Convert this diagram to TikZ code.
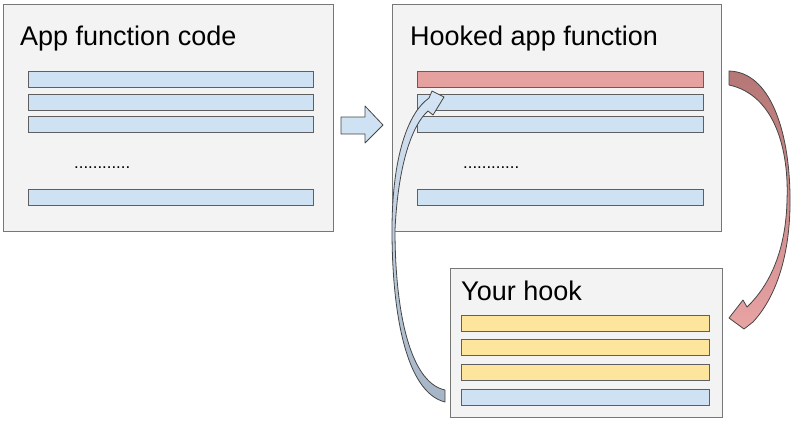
\documentclass[tikz,border=0pt]{standalone}
\usepackage{fontspec}
\setmainfont{Liberation Sans}
\definecolor{boxfill}{HTML}{F3F3F3}
\definecolor{boxline}{HTML}{777777}
\definecolor{barline}{HTML}{5F5F5F}
\definecolor{lblue}{HTML}{CFE2F3}
\definecolor{lred}{HTML}{E5A0A0}
\definecolor{lyellow}{HTML}{FDE59E}
\definecolor{redstart}{HTML}{B57676}
\definecolor{redend}{HTML}{E8A3A3}
\definecolor{bluestart}{HTML}{A6B5C5}
\definecolor{blueend}{HTML}{D5E5F5}
\definecolor{arrline}{HTML}{454545}
\tikzset{
  box/.style={draw=boxline, fill=boxfill, line width=0.9pt, inner sep=0pt, anchor=north west},
  bar/.style={draw=barline, line width=0.9pt, inner sep=0pt, anchor=north west, minimum height=16pt},
  title/.style={font=\fontsize{27pt}{30pt}\selectfont, anchor=base west, inner sep=0pt},
  dots/.style={font=\fontsize{16.8pt}{20pt}\selectfont, anchor=base west, inner sep=0pt},
  arr/.style={draw=arrline, line width=0.8pt, line join=round},
}
\begin{document}
\begin{tikzpicture}[x=1pt,y=-1pt]
\useasboundingbox (0,0) rectangle (795,424);
% box 1
\node[box, minimum width=330pt, minimum height=227pt] (b1) at (3,4) {};
\node[title] (t1) at (20,45) {App function code};
\node[bar, fill=lblue, minimum width=285pt] (a1) at (28,71) {};
\node[bar, fill=lblue, minimum width=285pt] (a2) at (28,94) {};
\node[bar, fill=lblue, minimum width=285pt] (a3) at (28,116) {};
\node[dots] (d1) at (74,168.5) {............};
\node[bar, fill=lblue, minimum width=285pt] (a4) at (28,189) {};
% box 2
\node[box, minimum width=329pt, minimum height=227pt] (b2) at (392,4) {};
\node[title] (t2) at (410,45) {Hooked app function};
\node[bar, fill=lred, minimum width=286pt] (h1) at (417,71) {};
\node[bar, fill=lblue, minimum width=286pt] (h2) at (417,94) {};
\node[bar, fill=lblue, minimum width=286pt] (h3) at (417,116) {};
\node[dots] (d2) at (463,168.5) {............};
\node[bar, fill=lblue, minimum width=286pt] (h4) at (417,189) {};
% box 3
\node[box, minimum width=272pt, minimum height=149pt] (b3) at (450,268) {};
\node[title] (t3) at (461,300) {Your hook};
\node[bar, fill=lyellow, minimum width=248pt] (y1) at (461,315) {};
\node[bar, fill=lyellow, minimum width=248pt] (y2) at (461,339) {};
\node[bar, fill=lyellow, minimum width=248pt] (y3) at (461,364) {};
\node[bar, fill=lblue, minimum width=248pt] (y4) at (461,389) {};
% block arrow
\path[arr, fill=lblue] (341,117) -- (365,117) -- (365,106) -- (383,125) -- (365,143) -- (365,134) -- (341,134) -- cycle;
% red curved arrow
\path[arr, top color=redstart, bottom color=redend]
  (729,71) .. controls (770,72) and (789,130) .. (790,195)
  .. controls (791,250) and (778,295) .. (753,322)
  -- (744,329) -- (729,318) -- (743,300) -- (747,307)
  .. controls (770,285) and (786,250) .. (787,200)
  .. controls (789,150) and (775,95) .. (729,85) -- cycle;
% blue curved arrow
\path[arr, bottom color=bluestart, top color=blueend]
  (445,402) .. controls (405,392) and (392,310) .. (392,230)
  .. controls (392,165) and (405,115) .. (429,98)
  -- (432,91) -- (444,97) -- (433,115) -- (428,111)
  .. controls (412,125) and (398,165) .. (395,230)
  .. controls (395,305) and (408,382) .. (445,390) -- cycle;
\end{tikzpicture}
\end{document}
